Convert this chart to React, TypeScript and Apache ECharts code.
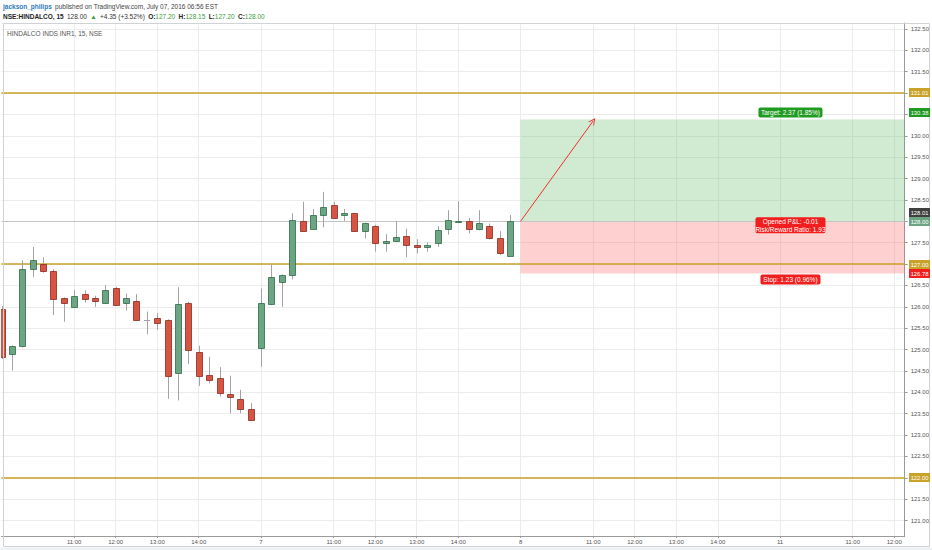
import React, { useEffect, useRef } from 'react';
import * as echarts from 'echarts';

// ---- time axis ----
const dayLabels = ['6', '7', '8', '11'];
const barsPerDay = 25;
const firstBarMinutes = 9 * 60 + 15;
const barMinutes = 15;
const slotCount = 88;
const shownTimes = ['11:00', '12:00', '13:00', '14:00'];

// ---- OHLC (15 min bars) ----
const opens = [
  125.94, 124.89, 125.09, 126.89, 127.0, 126.84, 126.2, 126.0, 126.31, 126.2,
  126.09, 126.45, 126.09, 126.14, 125.69, 125.75, 125.69, 124.45, 126.1, 124.95,
  124.4, 124.34, 123.95, 123.85, 123.61,
  125.04, 126.06, 126.59, 126.74, 128.0, 127.83, 128.14, 128.39, 128.14, 128.19,
  127.78, 127.89, 127.5, 127.54, 127.65, 127.44, 127.39, 127.5, 127.83, 128.0,
  128.0, 127.83, 127.89, 127.6, 127.2,
];
const closes = [
  124.83, 125.08, 126.89, 127.09, 126.84, 126.19, 126.09, 126.25, 126.19, 126.14,
  126.39, 126.05, 126.2, 125.69, 125.69, 125.63, 124.39, 126.06, 125.0, 124.39,
  124.3, 123.99, 123.89, 123.61, 123.36,
  126.1, 126.69, 126.74, 128.04, 127.78, 128.14, 128.34, 128.08, 128.2, 127.78,
  127.95, 127.5, 127.54, 127.64, 127.44, 127.39, 127.44, 127.79, 128.04, 128.01,
  127.83, 127.95, 127.6, 127.25, 128.0,
];
const highs = [
  126.02, 125.1, 127.09, 127.4, 127.16, 126.88, 126.22, 126.39, 126.39, 126.26,
  126.51, 126.47, 126.31, 126.3, 125.89, 125.86, 125.71, 126.46, 126.12, 125.09,
  124.83, 124.59, 124.39, 124.06, 123.75,
  126.43, 127.0, 126.76, 128.19, 128.46, 128.29, 128.69, 128.46, 128.29, 128.2,
  127.97, 127.92, 127.7, 128.0, 127.83, 127.58, 127.51, 127.89, 128.26, 128.47,
  128.08, 128.26, 127.95, 127.77, 128.15,
];
const lows = [
  124.78, 124.51, 125.05, 126.7, 126.8, 125.81, 125.65, 125.98, 126.1, 126.0,
  126.08, 126.03, 125.91, 125.67, 125.36, 125.46, 123.85, 123.81, 124.66, 124.15,
  124.21, 123.9, 123.51, 123.51, 123.33,
  124.6, 126.04, 126.0, 126.64, 127.76, 127.82, 127.86, 128.07, 128.01, 127.77,
  127.6, 127.29, 127.29, 127.52, 127.16, 127.25, 127.29, 127.4, 127.69, 127.99,
  127.72, 127.79, 127.58, 127.21, 127.2,
];

// ---- drawings ----
const levelLines = [131.01, 127.0, 122.0];
const lastLine = 128.01;
const entryPrice = 128.0;
const targetPrice = 130.38;
const stopPrice = 126.78;
const positionStart = 50;
const positionEnd = 102;
const arrowEnd = [57, 130.35];
const targetText = 'Target: 2.37 (1.85%)';
const pnlText = ['Opened P&L: -0.01', 'Risk/Reward Ratio: 1.93'];
const stopText = 'Stop: 1.23 (0.96%)';

const GOLD = '#c9a22a';
const tags = [
  { value: 131.01, text: '131.01', color: GOLD, shift: 0 },
  { value: 130.38, text: '130.38', color: '#1f9b22', shift: -7 },
  { value: 128.01, text: '128.01', color: '#3f3f3f', shift: -8.5 },
  { value: 128.0, text: '128.00', color: '#6ba583', shift: 0 },
  { value: 127.0, text: '127.00', color: GOLD, shift: 0 },
  { value: 126.78, text: '126.78', color: '#f21d1d', shift: 0 },
  { value: 122.0, text: '122.00', color: GOLD, shift: 0 },
];

const FONT = '"Liberation Sans", Arial, "DejaVu Sans", sans-serif';
const Y_MIN = 120.64;
const Y_MAX = 132.64;
const GRID_TOP = 23;
const GRID_BOTTOM = 14;
const PLOT_H = 550 - GRID_TOP - GRID_BOTTOM;

const categories: string[] = [];
for (let i = 0; i < slotCount; i++) {
  const d = Math.floor(i / barsPerDay);
  const s = i % barsPerDay;
  const m = firstBarMinutes + s * barMinutes;
  const t = `${Math.floor(m / 60)}:${String(m % 60).padStart(2, '0')}`;
  categories.push(`${dayLabels[d]}|${t}`);
}
const isShown = (i: number) => {
  const c = categories[i];
  if (!c || i === 0) return false;
  const t = c.split('|')[1];
  return t === '9:15' || shownTimes.includes(t);
};
const labelText = (c: string) => {
  const [d, t] = c.split('|');
  return t === '9:15' ? d : t;
};

// axis labels hidden underneath a price tag
const pxPerUnit = PLOT_H / (Y_MAX - Y_MIN);
const tagDisplayValues = tags.map((t) => t.value - t.shift / pxPerUnit);
const coveredByTag = (v: number) => tagDisplayValues.some((d) => Math.abs(d - v) < 0.16);

const candleData = opens.map((o, i) => [i, o, closes[i], lows[i], highs[i]]);

const arrowPath = 'path://M5,0 L10,10 L8.6,10 L5,2.8 L1.4,10 L0,10 Z';

export default function App() {
  const ref = useRef<HTMLDivElement>(null);
  useEffect(() => {
    if (!ref.current) return;
    const chart = echarts.init(ref.current, null, { renderer: 'svg' });
    chart.setOption({
      animation: false,
      backgroundColor: '#ffffff',
      textStyle: { fontFamily: FONT },
      grid: { left: 1.5, right: 26.5, top: GRID_TOP, bottom: GRID_BOTTOM, containLabel: false },
      xAxis: {
        type: 'category',
        data: categories,
        boundaryGap: false,
        axisLine: { lineStyle: { color: '#9a9a9a', width: 1 } },
        axisTick: { show: true, length: 2, interval: (i: number) => isShown(i), lineStyle: { color: '#9a9a9a' } },
        axisLabel: {
          interval: (i: number) => isShown(i),
          formatter: (v: string) => labelText(v),
          fontSize: 6,
          color: '#555',
          margin: 3,
          fontFamily: FONT,
        },
        splitLine: { show: true, interval: (i: number) => isShown(i), lineStyle: { color: '#ececec', width: 1 } },
      },
      yAxis: {
        type: 'value',
        position: 'right',
        min: Y_MIN,
        max: Y_MAX,
        splitNumber: 24,
        scale: true,
        axisLine: { show: true, lineStyle: { color: '#9a9a9a' } },
        axisTick: { show: true, length: 3, lineStyle: { color: '#9a9a9a' } },
        axisLabel: {
          formatter: (v: number) => (coveredByTag(v) ? '' : v.toFixed(2)),
          fontSize: 6,
          color: '#555',
          margin: 6,
          showMinLabel: false,
          showMaxLabel: false,
          fontFamily: FONT,
        },
        splitLine: { show: true, lineStyle: { color: '#ececec', width: 1 } },
      },
      series: [
        {
          type: 'line',
          data: [],
          silent: true,
          z: 1,
          markArea: {
            silent: true,
            data: [
              [
                { xAxis: positionStart, yAxis: targetPrice, itemStyle: { color: 'rgba(76,175,80,0.26)' } },
                { xAxis: Math.min(positionEnd, slotCount - 1), yAxis: entryPrice },
              ],
              [
                { xAxis: positionStart, yAxis: entryPrice, itemStyle: { color: 'rgba(255,82,82,0.27)' } },
                { xAxis: Math.min(positionEnd, slotCount - 1), yAxis: stopPrice },
              ],
            ],
          },
          markLine: {
            silent: true,
            symbol: ['none', 'none'],
            label: { show: false },
            data: [
              { yAxis: lastLine, lineStyle: { color: '#c4c4c4', width: 1, type: 'solid' } },
              ...levelLines.map((v) => ({ yAxis: v, lineStyle: { color: GOLD, width: 1.5, type: 'solid' } })),
              [
                { coord: [positionStart, entryPrice], symbol: 'none', lineStyle: { color: '#f2302a', width: 1, type: 'solid' } },
                { coord: arrowEnd, symbol: arrowPath, symbolSize: [7, 7] },
              ],
            ],
          },
        },
        {
          type: 'custom',
          z: 10,
          clip: true,
          data: candleData,
          encode: { x: 0, y: [1, 2, 3, 4] },
          renderItem: (params: any, api: any) => {
            const x = api.value(0);
            const o = api.value(1);
            const c = api.value(2);
            const l = api.value(3);
            const h = api.value(4);
            const pO = api.coord([x, o]);
            const pC = api.coord([x, c]);
            const pL = api.coord([x, l]);
            const pH = api.coord([x, h]);
            const band = api.size([1, 0])[0];
            const w = Math.round(band * 0.62);
            const cx = Math.round(pO[0]);
            const up = c > o;
            const doji = c === o;
            const top = Math.round(Math.min(pO[1], pC[1]));
            const bot = Math.round(Math.max(pO[1], pC[1]));
            const children: any[] = [
              {
                type: 'line',
                shape: { x1: cx + 0.5, y1: pH[1], x2: cx + 0.5, y2: pL[1] },
                style: { stroke: '#a3a3a3', lineWidth: 1 },
              },
            ];
            if (doji) {
              children.push({
                type: 'line',
                shape: { x1: cx - Math.floor(w / 2), y1: top + 0.5, x2: cx - Math.floor(w / 2) + w, y2: top + 0.5 },
                style: { stroke: '#a3a3a3', lineWidth: 1 },
              });
            } else {
              children.push({
                type: 'rect',
                shape: { x: cx - Math.floor(w / 2) + 0.5, y: top + 0.5, width: w, height: Math.max(bot - top, 1) },
                style: {
                  fill: up ? '#6ba583' : '#d75442',
                  stroke: up ? '#2f6b48' : '#8a2a1e',
                  lineWidth: 0.8,
                },
              });
            }
            return { type: 'group', children };
          },
        },
      ],
    });

    const py = (v: number) => chart.convertToPixel({ yAxisIndex: 0 }, v) as number;
    const px = (i: number) => chart.convertToPixel({ xAxisIndex: 0 }, i) as number;
    const midX = px((positionStart + positionEnd) / 2);

    const graphics: any[] = [];
    graphics.push({
      type: 'rect',
      shape: { x: 3.5, y: 23.5, width: 926, height: 523 },
      style: { fill: 'none', stroke: '#cfd3d6', lineWidth: 1 },
      z: 50,
      silent: true,
    });
    graphics.push({
      type: 'rect',
      shape: { x: 0, y: 547.5, width: 932, height: 3 },
      style: { fill: '#eef1f3' },
      z: 50,
      silent: true,
    });
    graphics.push({
      type: 'text',
      x: 3,
      y: 6,
      z: 60,
      style: {
        text: '{u|jackson_philips} {t|published on TradingView.com, July 07, 2016 06:56 EST}',
        verticalAlign: 'middle',
        rich: {
          u: { fill: '#2b7bbd', fontSize: 6.5, fontWeight: 'bold', fontFamily: FONT },
          t: { fill: '#444', fontSize: 6.5, fontFamily: FONT },
        },
      },
    });
    graphics.push({
      type: 'text',
      x: 3,
      y: 16,
      z: 60,
      style: {
        text:
          '{b|NSE:HINDALCO, 15} {n|128.00} {g|▲} {n|+4.35 (+3.52%)} {b|O:}{g|127.20} {b|H:}{g|128.15} {b|L:}{g|127.20} {b|C:}{g|128.00}',
        verticalAlign: 'middle',
        rich: {
          b: { fill: '#222', fontSize: 6.5, fontWeight: 'bold', fontFamily: FONT },
          n: { fill: '#333', fontSize: 6.5, fontFamily: FONT },
          g: { fill: '#3c9d3c', fontSize: 6.5, fontFamily: FONT },
        },
      },
    });
    graphics.push({
      type: 'text',
      x: 7,
      y: 33,
      z: 60,
      style: {
        text: 'HINDALCO INDS INR1, 15, NSE',
        fill: '#555',
        fontSize: 6.5,
        fontFamily: FONT,
        verticalAlign: 'middle',
      },
    });
    tags.forEach((t) => {
      const y = py(t.value) + t.shift;
      const top = Math.round(y - 4.5);
      graphics.push({
        type: 'rect',
        z: 70,
        shape: { x: 909, y: top, width: 21, height: 9 },
        style: { fill: t.color },
        silent: true,
      });
      graphics.push({
        type: 'text',
        z: 71,
        x: 919.5,
        y: top + 4.5,
        style: {
          text: t.text,
          fill: '#fff',
          fontSize: 5.8,
          fontFamily: FONT,
          align: 'center',
          verticalAlign: 'middle',
        },
        silent: true,
      });
    });
    const yT = py(targetPrice);
    graphics.push({
      type: 'rect',
      z: 70,
      shape: { x: midX - 32, y: yT - 12, width: 64, height: 10, r: 2 },
      style: { fill: '#1f9b22' },
    });
    graphics.push({
      type: 'text',
      z: 71,
      x: midX,
      y: yT - 7,
      style: { text: targetText, fill: '#fff', fontSize: 6.5, fontFamily: FONT, align: 'center', verticalAlign: 'middle' },
    });
    const yE = py(entryPrice);
    graphics.push({
      type: 'rect',
      z: 70,
      shape: { x: midX - 35, y: yE - 4, width: 70, height: 16, r: 2 },
      style: { fill: '#f21d1d' },
    });
    graphics.push({
      type: 'text',
      z: 71,
      x: midX,
      y: yE + 4,
      style: {
        text: pnlText.join('\n'),
        fill: '#fff',
        fontSize: 6.5,
        lineHeight: 7.5,
        fontFamily: FONT,
        align: 'center',
        verticalAlign: 'middle',
      },
    });
    const yS = py(stopPrice);
    graphics.push({
      type: 'rect',
      z: 70,
      shape: { x: midX - 30, y: yS + 1, width: 60, height: 10, r: 2 },
      style: { fill: '#f21d1d' },
    });
    graphics.push({
      type: 'text',
      z: 71,
      x: midX,
      y: yS + 6,
      style: { text: stopText, fill: '#fff', fontSize: 6.5, fontFamily: FONT, align: 'center', verticalAlign: 'middle' },
    });

    chart.setOption({ graphic: graphics });
    return () => chart.dispose();
  }, []);

  return (
    <div
      ref={ref}
      style={{ position: 'absolute', left: 0, top: 0, width: 932, height: 550, background: '#fff' }}
    />
  );
}
